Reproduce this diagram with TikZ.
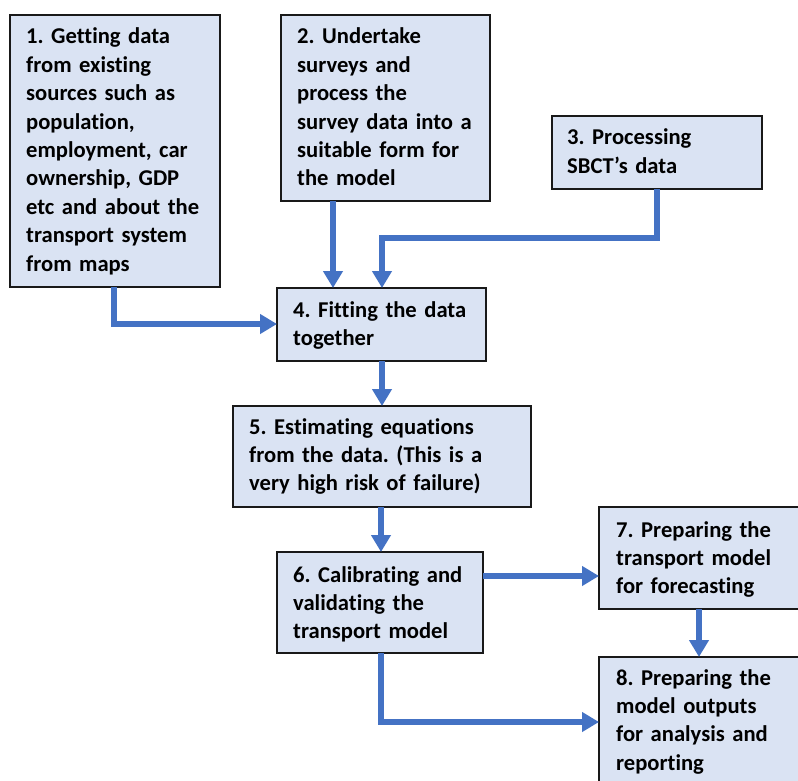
\documentclass[tikz,border=0pt]{standalone}
\usepackage{fontspec}
\setmainfont[Ligatures=NoCommon]{Carlito}
\usetikzlibrary{arrows.meta}
\definecolor{boxfill}{HTML}{DAE3F3}
\definecolor{flow}{HTML}{4472C4}
\tikzset{
  stepbox/.style={draw=black!90, line width=2pt, fill=boxfill, anchor=north west,
    inner sep=0pt, outer sep=0pt},
  steptext/.style={anchor=base west, inner sep=0pt, align=left, text width=#1,
    font=\fontsize{22.6}{28.4}\selectfont\bfseries\frenchspacing},
  steptext/.default=260pt,
  flowline/.style={draw=flow, line width=6.5pt,
    -{Triangle[width=19pt,length=17pt]}}
}
\begin{document}
\begin{tikzpicture}[x=1pt,y=-1pt]
\useasboundingbox (0,0) rectangle (798,781);
\clip (0,0) rectangle (798,781);
\fill[white] (0,0) rectangle (798,781);

% step boxes
\node[stepbox, minimum width=210pt, minimum height=272pt] (b1) at (10,15) {};
\node[stepbox, minimum width=209pt, minimum height=186pt] (b2) at (281,15) {};
\node[stepbox, minimum width=210pt, minimum height=73pt]  (b3) at (552,116) {};
\node[stepbox, minimum width=209pt, minimum height=73pt]  (b4) at (277,288) {};
\node[stepbox, minimum width=298pt, minimum height=101pt] (b5) at (233,406) {};
\node[stepbox, minimum width=206pt, minimum height=101pt] (b6) at (277,552) {};
\node[stepbox, minimum width=220pt, minimum height=102pt] (b7) at (599,507) {};
\node[stepbox, minimum width=220pt, minimum height=140pt] (b8) at (599,657) {};

% step texts
\node[steptext] (t1) at (26,44) {1. Getting data\\from existing\\sources such as\\population,\\employment, car\\ownership, GDP\\etc and about the\\transport system\\from maps};
\node[steptext] (t2) at (297,44) {2. Undertake\\surveys and\\process the\\survey data into a\\suitable form for\\the model};
\node[steptext] (t3) at (567,145) {3. Processing\\SBCT’s data};
\node[steptext] (t4) at (293,317) {4. Fitting the data\\together};
\node[steptext=300pt] (t5) at (249,434) {5. Estimating equations\\from the data. (This is a\\very high risk of failure)};
\node[steptext] (t6) at (293,582) {6. Calibrating and\\validating the\\transport model};
\node[steptext] (t7) at (616,537) {7. Preparing the\\transport model\\for forecasting};
\node[steptext] (t8) at (616,685) {8. Preparing the\\model outputs\\for analysis and\\reporting};

% turning points of the connectors
\coordinate (k1) at (114,324);
\coordinate (k3a) at (657,238);
\coordinate (k3b) at (382,238);
\coordinate (k6) at (381,722);

% connectors
\draw[flowline] (b1.south west -| k1) -- (k1) -- (k1 -| b4.west);
\draw[flowline] (333,201) -- (333,288);
\draw[flowline] (b3.south west -| k3a) -- (k3a) -- (k3b) -- (k3b |- b4.north);
\draw[flowline] (382,361) -- (382,406);
\draw[flowline] (381,507) -- (381,552);
\draw[flowline] (b6.east |- 0,576) -- (b7.west |- 0,576);
\draw[flowline] (699,609) -- (699,657);
\draw[flowline] (b6.south west -| k6) -- (k6) -- (k6 -| b8.west);
\end{tikzpicture}
\end{document}
